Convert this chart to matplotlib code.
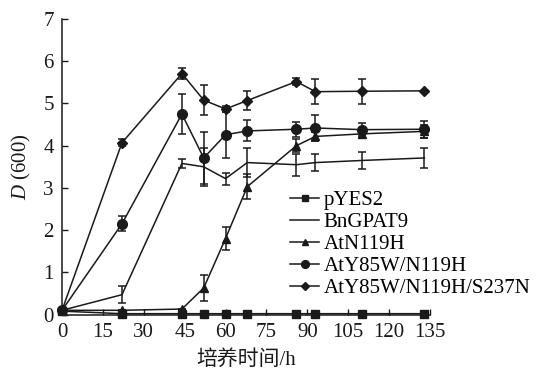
import matplotlib
matplotlib.use("Agg")
import matplotlib.pyplot as plt

plt.rcParams["font.family"] = ["Liberation Serif", "Noto Sans CJK SC"]
plt.rcParams["mathtext.fontset"] = "custom"
plt.rcParams["mathtext.it"] = "Liberation Serif:italic"
plt.rcParams["mathtext.rm"] = "Liberation Serif"

# sampling times (h)
hours = [0, 22, 44, 52, 60, 68, 86, 93, 110, 133]

pyes2 = [0.08, 0.02, 0.02, 0.02, 0.02, 0.02, 0.02, 0.02, 0.02, 0.02]
pyes2_err = [0, 0, 0, 0, 0, 0, 0, 0, 0, 0]

bngpat9 = [0.1, 0.47, 3.58, 3.5, 3.22, 3.6, 3.55, 3.6, 3.65, 3.71]
bngpat9_err = [0, 0.2, 0.1, 0.45, 0.14, 0.35, 0.26, 0.2, 0.2, 0.24]

n119h = [0.1, 0.1, 0.13, 0.63, 1.8, 3.03, 4.0, 4.22, 4.28, 4.34]
n119h_err = [0, 0, 0, 0.3, 0.27, 0.3, 0.15, 0.1, 0.1, 0.15]

y85w = [0.1, 2.15, 4.75, 3.71, 4.26, 4.35, 4.39, 4.42, 4.38, 4.39]
y85w_err = [0, 0.18, 0.47, 0.62, 0.55, 0.25, 0.18, 0.3, 0.15, 0.2]

s237n = [0.1, 4.07, 5.71, 5.08, 4.87, 5.07, 5.52, 5.28, 5.29, 5.3]
s237n_err = [0, 0.08, 0.13, 0.35, 0.08, 0.22, 0.08, 0.3, 0.3, 0]

x_ticks = [0, 15, 30, 45, 60, 75, 90, 105, 120, 135]
y_ticks = [0, 1, 2, 3, 4, 5, 6, 7]

color = "#1a1a1a"
series = [
    ("pYES2", pyes2, pyes2_err, "s", 6),
    ("BnGPAT9", bngpat9, bngpat9_err, "None", 0),
    ("AtN119H", n119h, n119h_err, "^", 6),
    ("AtY85W/N119H", y85w, y85w_err, "o", 7),
    ("AtY85W/N119H/S237N", s237n, s237n_err, "D", 5),
]

fig = plt.figure(figsize=(5.37, 3.74), dpi=100)
ax = fig.add_axes([0.1155, 0.159, 0.685, 0.79])

for label, vals, err, mk, ms in series:
    ax.errorbar(hours, vals, yerr=err, color=color, marker=mk, markersize=ms,
                linewidth=1.1, elinewidth=1.1, capsize=3, capthick=1.1,
                label=label, clip_on=False)

ax.set_xlim(0, 135)
ax.set_ylim(0, 7)
ax.set_xticks(x_ticks)
ax.set_yticks(y_ticks)
ax.tick_params(direction="in", labelsize=15, length=4, width=1, colors=color, pad=6)
for s in ["top", "right"]:
    ax.spines[s].set_visible(False)
for s in ["left", "bottom"]:
    ax.spines[s].set_linewidth(1.1)
    ax.spines[s].set_color(color)

ax.set_ylabel(r"$\mathit{D}$ (600)", fontsize=15, color=color, labelpad=7)
ax.set_xlabel("培养时间/h", fontsize=15, color=color, labelpad=6)

handles, labels = ax.get_legend_handles_labels()
handles = [h[0] for h in handles]
ax.legend(handles, labels, loc="upper left", bbox_to_anchor=(0.62, 0.42),
          frameon=False, fontsize=15, handlelength=1.4, handletextpad=0.2,
          labelspacing=0.12, borderpad=0, borderaxespad=0, markerscale=0.8)

fig.savefig("out.png", dpi=100)
